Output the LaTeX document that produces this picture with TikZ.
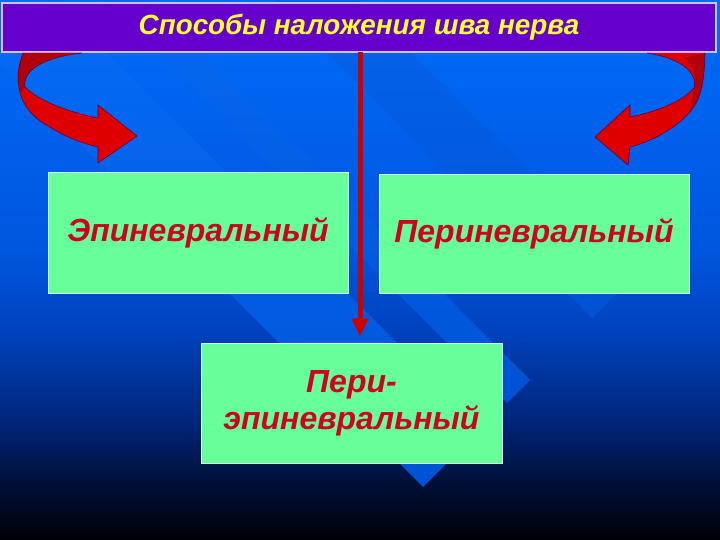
\documentclass[tikz,border=0pt]{standalone}
\usepackage{fontspec}
\setmainfont{Liberation Sans}
\usetikzlibrary{arrows.meta}
\definecolor{bgTop}{RGB}{0,108,250}
\definecolor{bgMid}{RGB}{0,86,222}
\definecolor{bgMidB}{RGB}{0,66,190}
\definecolor{bgLow}{RGB}{0,38,122}
\definecolor{bgLowB}{RGB}{0,16,58}
\definecolor{bgBot}{RGB}{0,0,6}
\definecolor{bandTop}{RGB}{6,112,252}
\definecolor{bandBot}{RGB}{0,82,212}
\definecolor{titleFill}{RGB}{102,0,204}
\definecolor{titleEdge}{RGB}{205,195,255}
\definecolor{titleText}{RGB}{255,255,51}
\definecolor{boxFill}{RGB}{102,255,153}
\definecolor{boxEdge}{RGB}{210,255,235}
\definecolor{boxText}{RGB}{208,0,32}
\definecolor{arrowRed}{RGB}{222,0,0}
\definecolor{arrowDark}{RGB}{175,0,12}
\definecolor{arrowEdge}{RGB}{100,0,50}
\definecolor{lineRed}{RGB}{205,0,0}
\begin{document}
\begin{tikzpicture}[x=1pt,y=-1pt,
  titlebox/.style={draw=titleEdge, line width=1.5pt, fill=titleFill, minimum width=714pt, minimum height=49pt, inner sep=0pt, text=titleText, font=\fontsize{27.8}{30}\selectfont\bfseries\itshape},
  greenbox/.style={draw=boxEdge, line width=1pt, fill=boxFill, inner sep=0pt, text=boxText, font=\fontsize{32}{37}\selectfont\bfseries\itshape, align=center},
  band/.style={top color=bandTop, bottom color=bandBot},
  ribbonfill/.style={fill=arrowRed},
  ribbonback/.style={fill=arrowDark},
  ribbonline/.style={draw=arrowEdge, line width=0.6pt},
  connector/.style={draw=lineRed, line width=5pt, -{Triangle[length=18pt,width=16pt]}, shorten >=6pt}
]
\useasboundingbox (0,0) rectangle (720,540);
% background gradient
\shade[top color=bgTop, bottom color=bgMid] (0,0) rectangle (720,251);
\shade[top color=bgMid, bottom color=bgMidB] (0,250) rectangle (720,331);
\shade[top color=bgMidB, bottom color=bgLow] (0,330) rectangle (720,421);
\shade[top color=bgLow, bottom color=bgLowB] (0,420) rectangle (720,481);
\shade[top color=bgLowB, bottom color=bgBot] (0,480) rectangle (720,540);
% diagonal bands
\begin{scope}
\clip (0,0) rectangle (720,540);
\shade[band] (-77,-13) -- (423,487) -- (482,428) -- (-18,-72) -- cycle;
\shade[band] (7,-97) -- (507,403) -- (530,380) -- (30,-120) -- cycle;
\shade[band] (92,-182) -- (592,318) -- (634,276) -- (134,-224) -- cycle;
\end{scope}
% title
\node[titlebox] (title) at (359,27.5) {\raisebox{-1.5pt}{Способы наложения шва нерва}};
% curved ribbon arrows
\path[ribbonfill] (23,53) .. controls (14,80) and (16,108) .. (48,126) .. controls (64,136) and (80,143) .. (98,147) -- (98,163) -- (137,136) -- (98,105) -- (98,118) .. controls (72,113) and (40,102) .. (25,87) .. controls (22,70) and (45,57) .. (82,53) -- cycle;
\path[ribbonback] (23,53) .. controls (16,70) and (16,82) .. (21,92) -- (25,87) .. controls (22,70) and (45,57) .. (82,53) -- cycle;
\path[ribbonline] (23,53) .. controls (14,80) and (16,108) .. (48,126) .. controls (64,136) and (80,143) .. (98,147) -- (98,163) -- (137,136) -- (98,105) -- (98,118) .. controls (72,113) and (40,102) .. (25,87) .. controls (22,70) and (45,57) .. (82,53);
\path[ribbonfill] (705,53) .. controls (704,78) and (703,98) .. (688,114) .. controls (673,130) and (650,142) .. (630,147) -- (628,165) -- (595,137) -- (630,105) -- (630,117) .. controls (655,112) and (682,102) .. (694,88) .. controls (698,72) and (680,58) .. (647,53) -- cycle;
\path[ribbonback] (705,53) .. controls (704,78) and (703,98) .. (690,112) -- (694,88) .. controls (697,75) and (693,64) .. (684,58) -- cycle;
\path[ribbonline] (705,53) .. controls (704,78) and (703,98) .. (688,114) .. controls (673,130) and (650,142) .. (630,147) -- (628,165) -- (595,137) -- (630,105) -- (630,117) .. controls (655,112) and (682,102) .. (694,88) .. controls (698,72) and (680,58) .. (647,53);
% boxes
\node[greenbox, minimum width=300pt, minimum height=120pt] (epi) at (198,233) {\raisebox{-2pt}{Эпиневральный}};
\node[greenbox, minimum width=310pt, minimum height=118pt] (peri) at (534,234) {\raisebox{-2pt}{Периневральный}};
\node[greenbox, minimum width=301pt, minimum height=120pt] (periepi) at (351.5,403) {\raisebox{-3pt}{Пери-}\\\raisebox{-3pt}{эпиневральный}};
% connector
\coordinate (lineTop) at (360,52);
\draw[connector] (lineTop) -- (periepi.north -| lineTop);
\end{tikzpicture}
\end{document}
